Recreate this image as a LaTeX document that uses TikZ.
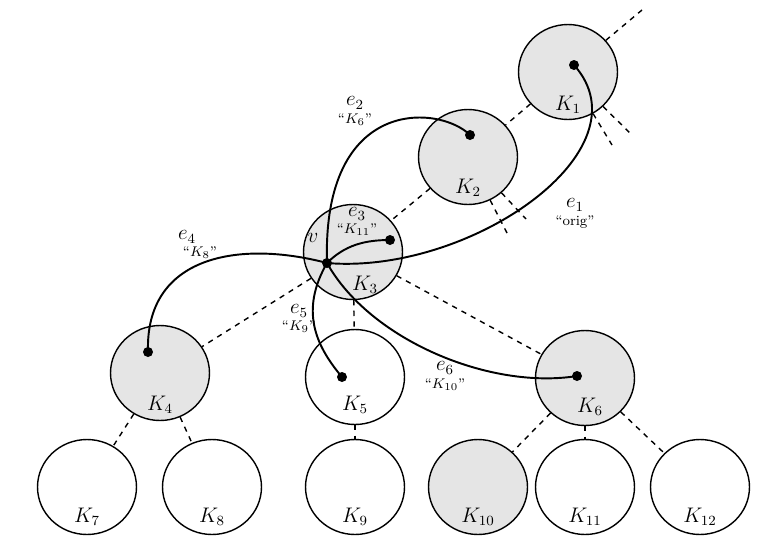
\documentclass[tikz,border=0pt]{standalone}
\usepackage{amsmath}
\usepackage{tikz}
\usetikzlibrary{positioning}
\usetikzlibrary{shapes.geometric}
\tikzset{my_tree/.style={x=0.02cm,y=-0.02cm,thick}}
\tikzset{my_bag/.style={ellipse,draw,thick,minimum width=1.98cm,minimum height=1.9cm}}
\tikzset{my_gray_bag/.style={my_bag,fill=gray!20}}
\tikzset{my_link/.style={dashed,thick}}
\tikzset{my_edge/.style={line width=1.1pt}}
\tikzset{my_dot/.style={circle,fill,inner sep=0pt,minimum size=0.2cm}}
\tikzset{my_lab/.style={font=\large,inner sep=0pt}}
\tikzset{my_name/.style={font=\footnotesize,inner sep=0pt}}

\begin{document}
\begin{tikzpicture}[my_tree]
    \useasboundingbox (0,0) rectangle (771,545);
    % bags
    \node[my_gray_bag] (1) at (568,72) {};
    \node[my_gray_bag] (2) at (468,157) {};
    \node[my_gray_bag] (3) at (353,252) {};
    \node[my_gray_bag] (4) at (160,373) {};
    \node[my_bag] (5) at (355,377) {};
    \node[my_gray_bag] (6) at (585,378) {};
    \node[my_bag] (7) at (87,487) {};
    \node[my_bag] (8) at (212,487) {};
    \node[my_bag] (9) at (355,487) {};
    \node[my_gray_bag] (10) at (478,487) {};
    \node[my_bag] (11) at (585,487) {};
    \node[my_bag] (12) at (700,487) {};
    \foreach \i/\x/\y in {1/568/105,2/468/188,3/365/285,4/160/405,5/355/405,6/590/407,
        7/87/517,8/212/517,9/355/517,10/478/517,11/585/517,12/700/517}
        \node[my_lab] (l\i) at (\x,\y) {$K_{\i}$};
    % tree links
    \coordinate (t0) at (642,10);
    \coordinate (s1) at (612,145);
    \coordinate (s2) at (630,133);
    \coordinate (s3) at (507,233);
    \coordinate (s4) at (526,219);
    \draw[my_link] (1) -- (t0);
    \draw[my_link] (1) -- (s1);
    \draw[my_link] (1) -- (s2);
    \draw[my_link] (2) -- (s3);
    \draw[my_link] (2) -- (s4);
    \draw[my_link] (1) -- (2);
    \draw[my_link] (2) -- (3);
    \draw[my_link] (3) -- (4);
    \draw[my_link] (3) -- (5);
    \draw[my_link] (3) -- (6);
    \draw[my_link] (4) -- (7);
    \draw[my_link] (4) -- (8);
    \draw[my_link] (5) -- (9);
    \draw[my_link] (6) -- (10);
    \draw[my_link] (6) -- (11);
    \draw[my_link] (6) -- (12);
    % dots
    \node[my_dot] (v) at (327,263) {};
    \node[my_dot] (d1) at (574,65) {};
    \node[my_dot] (d2) at (470,135) {};
    \node[my_dot] (d3) at (390,240) {};
    \node[my_dot] (d4) at (148,352) {};
    \node[my_dot] (d5) at (342,377) {};
    \node[my_dot] (d6) at (577,376) {};
    % edges
    \draw[my_edge] (v.center) .. controls (470,275) and (650,150) .. (d1.center);
    \draw[my_edge] (v.center) .. controls (322,95) and (440,105) .. (d2.center);
    \draw[my_edge] (v.center) .. controls (345,245) and (365,240) .. (d3.center);
    \draw[my_edge] (v.center) .. controls (240,240) and (145,255) .. (d4.center);
    \draw[my_edge] (v.center) .. controls (300,310) and (315,345) .. (d5.center);
    \draw[my_edge] (v.center) .. controls (370,340) and (490,390) .. (d6.center);
    % labels
    \node[my_lab] (vl) at (313,238) {$v$};
    \node[my_lab] (e1) at (575,205) {$e_1$};
    \node[my_name] (n1) at (575,222) {``orig''};
    \node[my_lab] (e2) at (355,103) {$e_2$};
    \node[my_name] (n2) at (355,120) {``$K_6$''};
    \node[my_lab] (e3) at (357,214) {$e_3$};
    \node[my_name] (n3) at (357,230) {``$K_{11}$''};
    \node[my_lab] (e4) at (187,237) {$e_4$};
    \node[my_name] (n4) at (200,253) {``$K_8$''};
    \node[my_lab] (e5) at (299,311) {$e_5$};
    \node[my_name] (n5) at (299,327) {``$K_9$''};
    \node[my_lab] (e6) at (445,368) {$e_6$};
    \node[my_name] (n6) at (445,385) {``$K_{10}$''};
\end{tikzpicture}
\end{document}
